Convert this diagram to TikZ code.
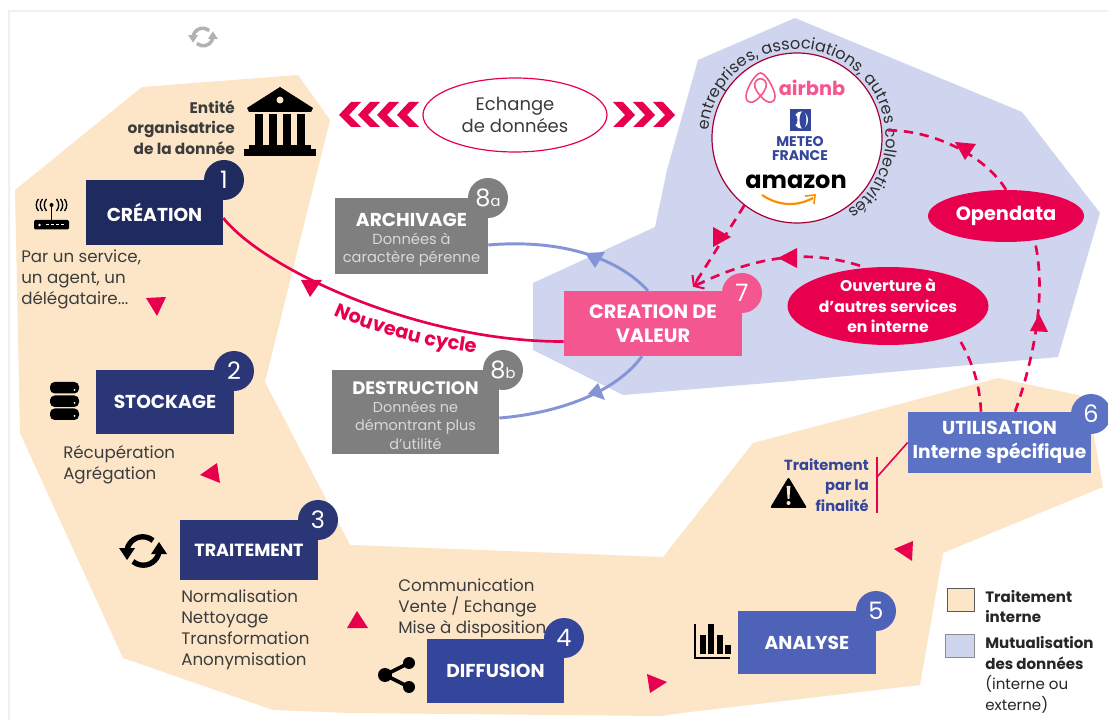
\documentclass[tikz,border=0pt]{standalone}
\usepackage{fontspec}
\setmainfont{Poppins}
\usetikzlibrary{arrows.meta,decorations.text,calc,shapes.geometric}
\definecolor{orangebg}{HTML}{FDE6C8}
\definecolor{bluebg}{HTML}{CFD5EE}
\definecolor{navy}{HTML}{1F2A5E}
\definecolor{navyb}{HTML}{2A3675}
\definecolor{midblue}{HTML}{34459C}
\definecolor{lightblue}{HTML}{4E62B8}
\definecolor{paleblue}{HTML}{5C72C4}
\definecolor{arcblue}{HTML}{8494D6}
\definecolor{crimson}{HTML}{E8004F}
\definecolor{rosebox}{HTML}{F4578F}
\definecolor{greybox}{HTML}{7F7F7F}
\definecolor{txt}{HTML}{3C3C3C}
\definecolor{ringtxt}{HTML}{2E2E2E}
\tikzset{
  x=0.75pt,y=-0.75pt,
  stepbox/.style={rectangle,minimum width=#1*0.75,inner sep=0pt,text=white,font=\fontsize{14}{17}\selectfont\bfseries,align=center},
  bh/.style={minimum height=#1*0.75},
  num/.style={circle,minimum size=30pt,inner sep=0pt,text=white,font=\fontsize{18}{20}\selectfont},
  small/.style={text=txt,font=\fontsize{12.5}{15.7}\selectfont,align=left,inner sep=0pt},
  dashl/.style={crimson,line width=2pt,dash pattern=on 7pt off 5pt},
  redell/.style={ellipse,fill=crimson,text=white,inner sep=0pt,align=center},
  openend/.style={-{Straight Barb[length=6pt,width=10pt,line width=1.5pt]}},
}
\begin{document}
\begin{tikzpicture}
\useasboundingbox (0,0) rectangle (1108,720);
\fill[white] (0,0) rectangle (1108,720);
\draw[black!6,line width=0.8pt] (1108,11) -- (9,11) -- (9,720);
% blue zone
\fill[bluebg] (795,18) -- (698,60) -- (667,170) -- (655,227) -- (533,283) -- (533,350) -- (623,395) -- (780,382) -- (1058,357) -- (1100,213) -- (1022,112) -- cycle;
% orange zone
\fill[orangebg] (15,190) -- (142,87) -- (298,75) -- (330,120) -- (265,382) -- (350,545) -- (663,557) -- (753,443) -- (998,378) -- (1087,397) -- (1103,487) -- (943,553) -- (920,685) -- (690,712) -- (660,716) -- (350,713) -- (273,710) -- (123,658) -- (20,433) -- cycle;
% grey sync
\begin{scope}[shift={(203,37)},scale=0.62]
\draw[black!30,line width=2.6pt] (-16,-1) arc[start angle=190,end angle=310,radius=16];
\draw[black!30,line width=2.6pt] (16,1) arc[start angle=10,end angle=130,radius=16];
\fill[black!30] (-24,-3) -- (-8,-3) -- (-16,9) -- cycle;
\fill[black!30] (24,3) -- (8,3) -- (16,-9) -- cycle;
\end{scope}
% boxes
\node[stepbox=137,bh=65,fill=navy] (crea) at (154.5,212.5) {CRÉATION};
\node[num,fill=navy] (n1) at (224,180) {1};
\node[stepbox=138,bh=64,fill=navyb] (stock) at (165,402) {STOCKAGE};
\node[num,fill=navyb] (n2) at (234,371) {2};
\node[stepbox=138,bh=60,fill=navyb,font=\fontsize{13.2}{15}\selectfont\bfseries] (trait) at (249,550) {TRAITEMENT};
\node[num,fill=navyb] (n3) at (318,520) {3};
\node[stepbox=137,bh=64,fill=midblue] (diff) at (495.5,671) {DIFFUSION};
\node[num,fill=midblue] (n4) at (564,638) {4};
\node[stepbox=138,bh=63,fill=lightblue] (ana) at (807,642.5) {ANALYSE};
\node[num,fill=lightblue] (n5) at (876,611) {5};
\node[stepbox=183,bh=61,fill=paleblue,font=\fontsize{14}{18.5}\selectfont\bfseries] (util) at (999.5,442.5) {UTILISATION\\Interne spécifique};
\node[num,fill=paleblue] (n6) at (1091,414) {6};
\node[stepbox=178,bh=65,fill=rosebox,font=\fontsize{14.5}{18}\selectfont\bfseries] (val) at (653,323.5) {\raisebox{-1.5pt}{CREATION DE}\\\raisebox{-1.5pt}{VALEUR}};
\node[num,fill=rosebox] (n7) at (742,293) {7};
\node[stepbox=153,bh=76,fill=greybox] (arch) at (411.5,236) {};
\node[num,fill=greybox] (n8a) at (488,198) {8\fontsize{11}{12}\selectfont a};
\node[stepbox=167,bh=84,fill=greybox] (dest) at (415.5,412) {};
\node[num,fill=greybox] (n8b) at (503,370) {8\fontsize{11}{12}\selectfont b};
\node[text=black!15,inner sep=0pt,align=center,font=\fontsize{11}{13.7}\selectfont] (archt) at (411.5,240) {{\fontsize{14}{15}\selectfont\bfseries\color{white}ARCHIVAGE}\\Données à\\caractère pérenne};
\node[text=black!15,inner sep=0pt,align=center,font=\fontsize{10.8}{13.7}\selectfont] (destt) at (415.5,415.5) {{\fontsize{13.5}{15}\selectfont\bfseries\color{white}DESTRUCTION}\\Données ne\\démontrant plus\\d’utilité};
% small texts
\node[small,anchor=north west] (t1) at (21,250) {Par un service,\\un agent, un\\délégataire...};
\node[small,anchor=north west] (t2) at (63,445) {Récupération\\Agrégation};
\node[small,anchor=north west] (t3) at (181,590) {Normalisation\\Nettoyage\\Transformation\\Anonymisation};
\node[small,anchor=north west] (t4) at (398,579) {Communication\\Vente / Echange\\Mise à disposition};
\node[small,anchor=north east,align=right,font=\fontsize{11.5}{15.7}\selectfont\bfseries] (t0) at (235,100) {Entité\\organisatrice\\de la donnée};
\node[small,anchor=north east,align=right,text=midblue,font=\fontsize{11}{15.7}\selectfont\bfseries] (t6) at (869,458) {Traitement\\par la\\finalité};
% legend
\node[draw=black!65,fill=orangebg,minimum width=27*0.75,minimum height=23*0.75,inner sep=0pt] (lg1) at (960.5,599.5) {};
\node[draw=black!45,fill=bluebg,minimum width=29*0.75,minimum height=23*0.75,inner sep=0pt] (lg2) at (959.5,645.5) {};
\node[small,anchor=north west,text=black!85,font=\fontsize{11.3}{15.4}\selectfont] (lt) at (985,590) {\textbf{Traitement}\\\textbf{interne}\\[4pt]\textbf{Mutualisation}\\\textbf{des données}\\(interne ou\\externe)};
% ellipses
\node[ellipse,draw=crimson,line width=0.9pt,fill=white,minimum width=184*0.75,minimum height=74*0.75,inner sep=0pt,align=center,text=txt,font=\fontsize{13.5}{16.5}\selectfont] (ech) at (515,115) {Echange\\de données};
\node[redell,minimum width=156*0.75,minimum height=52*0.75,font=\fontsize{14.5}{17}\selectfont\bfseries] (od) at (1006,216) {Opendata};
\node[redell,minimum width=201*0.75,minimum height=78*0.75,font=\fontsize{11.7}{15.4}\selectfont\bfseries] (ouv) at (888,306) {Ouverture à\\d’autres services\\en interne};
% partners circle
\node[circle,draw=crimson!70!black,line width=0.9pt,fill=white,minimum size=170*0.75,inner sep=0pt] (part) at (797,138) {};
\node[inner sep=0pt,text=rosebox,font=\fontsize{14.5}{16}\selectfont\bfseries] (air) at (812,88) {airbnb};
\node[inner sep=0pt,text=midblue,align=center,font=\fontsize{10.5}{10.5}\selectfont\bfseries] (met) at (800,149) {METEO\\FRANCE};
\node[inner sep=0pt,text=black,font=\fontsize{18}{20}\selectfont\bfseries] (ama) at (796,182) {amazon};
% airbnb logo
\draw[rosebox,line width=1.2pt,line join=round] (760.5,96) .. controls (754,104) and (746,105) .. (746,96) .. controls (746,90) and (755,73) .. (760.5,73) .. controls (766,73) and (775,90) .. (775,96) .. controls (775,105) and (767,104) .. (760.5,96) .. controls (755,90) and (753,84) .. (756,81) .. controls (758,78) and (763,78) .. (765,81) .. controls (768,84) and (766,90) .. (760.5,96);
% meteo logo
\fill[midblue] (790,109) rectangle (811,131);
\fill[white] (801,120) ellipse[x radius=7,y radius=8.5];
\fill[midblue] (803,120) ellipse[x radius=3.4,y radius=8.5];
\fill[midblue] (795,120) ellipse[x radius=2.5,y radius=5];
% amazon smile
\draw[orange!90!yellow,line width=1.6pt] (762,195) .. controls (780,207) and (798,206) .. (813,198);
\draw[orange!90!yellow,line width=1.2pt] (805,196) -- (815,195) -- (814,204);
% circular text
\path[decorate,decoration={text along path,text align={left indent=0pt},text={|\fontsize{12.1}{12}\selectfont\color{ringtxt}|entreprises, associations, autres collectivités}}]
  (part.center) ++(185:89) arc[start angle=185,end angle=450,radius=89];
% chevrons
\foreach \xx in {339,358,377,397}{
\fill[crimson] (\xx+22,102) -- (\xx+12,102) -- (\xx,115) -- (\xx+12,127) -- (\xx+22,127) -- (\xx+10,115) -- cycle;}
\foreach \xx in {613,633,653}{
\fill[crimson] (\xx,102) -- (\xx+10,102) -- (\xx+22,115) -- (\xx+10,127) -- (\xx,127) -- (\xx+12,115) -- cycle;}
% bank
\begin{scope}[shift={(280,0)}]
\fill[black] (-33,108) -- (0,87) -- (33,108) -- (31,112) -- (-31,112) -- cycle;
\fill[orangebg] (0,100) circle[radius=3.5];
\foreach \a in {-25,-11,3,17}{\fill[black] (\a,114) rectangle (\a+8,146);}
\fill[black] (-31,145) rectangle (31,149);
\fill[black] (-36,149) rectangle (36,156);
\end{scope}
% router
\begin{scope}[shift={(51.5,0)}]
\fill[black,rounded corners=1pt] (-17.5,220) rectangle (17.5,229.5);
\fill[white] (-12,225) circle[radius=1.3];
\foreach \a in {-4,1,6,11}{\fill[white] (\a-1.5,224.5) rectangle (\a+1.5,225.5);}
\draw[black,line width=1.3pt] (0,205) -- (0,220);
\fill[black] (0,205) circle[radius=2];
\foreach \r in {5,9,13}{
\draw[black,line width=1pt] (-\r,199) .. controls (-\r-3,203) and (-\r-3,207) .. (-\r,211);
\draw[black,line width=1pt] (\r,199) .. controls (\r+3,203) and (\r+3,207) .. (\r,211);}
\end{scope}
% database
\begin{scope}[shift={(64.5,0)}]
\foreach \yy in {382,395.5,408.5}{\fill[black,rounded corners=3.5pt] (-14.5,\yy) rectangle (14.5,\yy+11.5);}
\foreach \yy in {390,403,416}{\fill[white] (10,\yy) circle[radius=1];}
\end{scope}
% black sync
\begin{scope}[shift={(143,551)}]
\draw[black,line width=4pt] (-16,-1) arc[start angle=190,end angle=310,radius=16];
\draw[black,line width=4pt] (16,1) arc[start angle=10,end angle=130,radius=16];
\fill[black] (-24,-3) -- (-8,-3) -- (-16,9) -- cycle;
\fill[black] (24,3) -- (8,3) -- (16,-9) -- cycle;
\end{scope}
% share
\draw[black,line width=2.8pt] (409,663) -- (385,675) -- (409,687);
\fill[black] (409,663) circle[radius=6];
\fill[black] (409,687) circle[radius=6];
\fill[black] (385,675) circle[radius=7];
% chart
\draw[black,line width=1.6pt] (695,624) -- (695,658) -- (730,658);
\foreach \a/\b in {700/635,708/624,717/635,725/645}{\fill[black] (\a,\b) rectangle (\a+6,654);}
% warning
\fill[black,rounded corners=1.5pt] (770,508) -- (788.5,477) -- (807,508) -- cycle;
\fill[orangebg] (786.6,486) -- (790.4,486) -- (789.4,499) -- (787.6,499) -- cycle;
\fill[orangebg] (788.5,503) circle[radius=2];
% connectors
\draw[crimson,line width=2pt] ($(crea.east)+(0,5.5)$) .. controls (265,270) and (420,342) .. ($(val.west)+(0,18)$);
\fill[crimson] (301,280) -- (322,280) -- (310,297) -- cycle;
\path[decorate,decoration={text along path,text align={left indent=0pt},text={|\fontsize{14.5}{15}\selectfont\bfseries\color{crimson}|Nouveau cycle}}]
  (334,315) .. controls (375,334) and (430,348) .. (482,354);
\draw[arcblue,line width=2.2pt] ($(arch.east)+(0,9)$) .. controls (545,240) and (610,250) .. ($(val.north)+(-5,0)$);
\fill[arcblue] (585,253) -- (605,252) -- (595,268) -- cycle;
\draw[arcblue,line width=2.2pt] ($(dest.east)+(0,6)$) .. controls (540,415) and (610,400) .. ($(val.south)+(-11,0)$);
\fill[arcblue] (588,394) -- (605,400) -- (598,383) -- cycle;
\draw[crimson,line width=1.2pt] (877,457) -- (877,513);
\draw[crimson,line width=1.2pt] (877,477) -- (util.west);
% dashed
\coordinate (vtop) at ($(val.north)+(40,-4)$);
\draw[dashl,openend] (part.232) -- (vtop);
\draw[dashl,openend] ($(ouv.north)+(-28,-1)$) .. controls (810,250) and (760,254) .. (vtop);
\draw[dashl] (od.north) .. controls (985,155) and (930,128) .. (part.5);
\draw[dashl] ($(util.north)+(-18.5,0)$) .. controls (980,385) and (972,360) .. ($(ouv.south)+(70,-8)$);
\draw[dashl] ($(util.north)+(15.5,0)$) .. controls (1030,370) and (1048,300) .. ($(od.south)+(29,0)$);
\fill[crimson] (713,227) -- (731,237) -- (713,247) -- cycle;
\fill[crimson] (778,258) -- (797,248) -- (797,268) -- cycle;
\fill[crimson] (955,142) -- (976,144) -- (965,160) -- cycle;
\fill[crimson] (1030,331) -- (1039,314) -- (1048,332) -- cycle;
% flow triangles
\fill[crimson] (146,298) -- (166,297) -- (157,316) -- cycle;
\fill[crimson] (200,475) -- (217,463) -- (220,483) -- cycle;
\fill[crimson] (347,628) -- (357,611) -- (368,628) -- cycle;
\fill[crimson] (647,674) -- (667,682) -- (650,693) -- cycle;
\fill[crimson] (894,549) -- (913,541) -- (912,561) -- cycle;
\end{tikzpicture}
\end{document}
